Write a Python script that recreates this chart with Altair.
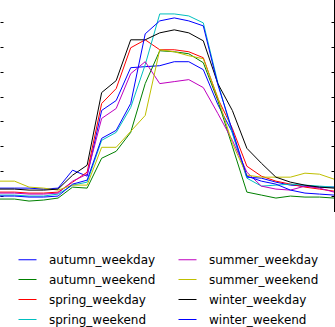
import altair as alt
import pandas as pd

hours = list(range(24))

autumn_weekday = [0.33, 0.33, 0.33, 0.32, 0.33, 0.51, 0.45, 1.11, 1.21, 1.54, 1.55, 1.56,
                  1.60, 1.60, 1.52, 1.17, 0.89, 0.44, 0.43, 0.39, 0.36, 0.35, 0.34, 0.34]
autumn_weekend = [0.22, 0.22, 0.20, 0.21, 0.23, 0.34, 0.33, 0.63, 0.70, 0.89, 1.38, 1.71,
                  1.70, 1.68, 1.59, 1.21, 0.75, 0.29, 0.26, 0.23, 0.25, 0.24, 0.24, 0.23]
spring_weekday = [0.29, 0.29, 0.28, 0.28, 0.29, 0.39, 0.49, 1.18, 1.33, 1.74, 1.82, 1.72,
                  1.72, 1.70, 1.64, 1.23, 0.93, 0.55, 0.45, 0.40, 0.37, 0.34, 0.32, 0.30]
spring_weekend = [0.26, 0.26, 0.25, 0.25, 0.27, 0.36, 0.39, 0.81, 0.89, 1.14, 1.57, 2.08,
                  2.08, 2.06, 1.99, 1.39, 0.88, 0.43, 0.35, 0.36, 0.37, 0.36, 0.35, 0.34]
summer_weekday = [0.28, 0.28, 0.27, 0.27, 0.28, 0.40, 0.47, 1.03, 1.13, 1.48, 1.60, 1.38,
                  1.40, 1.42, 1.34, 1.08, 0.81, 0.49, 0.35, 0.32, 0.31, 0.35, 0.33, 0.29]
summer_weekend = [0.40, 0.40, 0.34, 0.33, 0.31, 0.36, 0.36, 0.74, 0.74, 0.90, 1.06, 1.72,
                  1.70, 1.66, 1.63, 1.24, 0.78, 0.46, 0.44, 0.44, 0.44, 0.48, 0.47, 0.42]
winter_weekday = [0.32, 0.32, 0.31, 0.31, 0.32, 0.46, 0.56, 1.29, 1.41, 1.82, 1.82, 1.89,
                  1.92, 1.89, 1.81, 1.38, 1.11, 0.73, 0.58, 0.44, 0.39, 0.36, 0.34, 0.33]
winter_weekend = [0.25, 0.25, 0.24, 0.24, 0.25, 0.37, 0.41, 0.83, 0.91, 1.18, 1.88, 2.01,
                  2.04, 2.01, 1.96, 1.37, 0.91, 0.45, 0.40, 0.37, 0.31, 0.28, 0.27, 0.26]

series_names = ["autumn_weekday", "autumn_weekend", "spring_weekday", "spring_weekend",
                "summer_weekday", "summer_weekend", "winter_weekday", "winter_weekend"]
series_values = [autumn_weekday, autumn_weekend, spring_weekday, spring_weekend,
                 summer_weekday, summer_weekend, winter_weekday, winter_weekend]
series_colors = ["#0000ff", "#008000", "#ff0000", "#00bfbf",
                 "#bf00bf", "#bfbf00", "#000000", "#0000ff"]

x_ticks = [0, 5, 10, 15, 20]
y_ticks = [0.25, 0.5, 0.75, 1.0, 1.25, 1.5, 1.75, 2.0]

rows = []
for name, vals in zip(series_names, series_values):
    assert len(vals) == len(hours)
    for h, v in zip(hours, vals):
        rows.append({"hour": h, "value": v, "series": name})
df = pd.DataFrame(rows)

W, H = 334, 212
xscale = alt.Scale(domain=[0, 23], nice=False, zero=False)
yscale = alt.Scale(domain=[0.09, 2.22], nice=False, zero=False)

base = alt.Chart(df)

lines = base.mark_line(strokeWidth=1, clip=True).encode(
    x=alt.X("hour:Q", scale=xscale,
            axis=alt.Axis(orient="top", values=x_ticks, labels=False, domain=False,
                          grid=False, tickSize=3, offset=-3, tickColor="black", title=None)),
    y=alt.Y("value:Q", scale=yscale,
            axis=alt.Axis(orient="left", values=y_ticks, labels=False, domain=False,
                          grid=False, tickSize=3, offset=-3, tickColor="black", title=None)),
    color=alt.Color("series:N", scale=alt.Scale(domain=series_names, range=series_colors),
                    legend=alt.Legend(title=None, orient="none", legendX=18, legendY=250,
                                      columns=2, symbolType="stroke", symbolSize=324,
                                      symbolStrokeWidth=1, labelFont="DejaVu Sans",
                                      labelFontSize=12, labelColor="black", labelOffset=12,
                                      columnPadding=20, rowPadding=4, padding=0,
                                      labelLimit=250)),
)

right_ticks = base.mark_line(opacity=0).encode(
    x=alt.X("hour:Q", scale=xscale, axis=None),
    y=alt.Y("value:Q", scale=yscale,
            axis=alt.Axis(orient="right", values=y_ticks, labels=False, domain=False,
                          grid=False, tickSize=3, offset=-3, tickColor="black", title=None)),
    detail="series:N",
)

spine = alt.Chart(pd.DataFrame({"s": [0]})).mark_rule(color="black", strokeWidth=1).encode(
    x=alt.value(W + 0.5), y=alt.value(0), y2=alt.value(H)
)

chart = alt.layer(lines, right_ticks, spine).resolve_axis(y="independent").properties(
    width=W, height=H, autosize="none",
    padding={"left": 0, "top": 0, "right": 1, "bottom": 115},
    background="white",
).configure_view(stroke=None)

chart.save("out.html", embed_options={"renderer": "svg", "actions": False})
